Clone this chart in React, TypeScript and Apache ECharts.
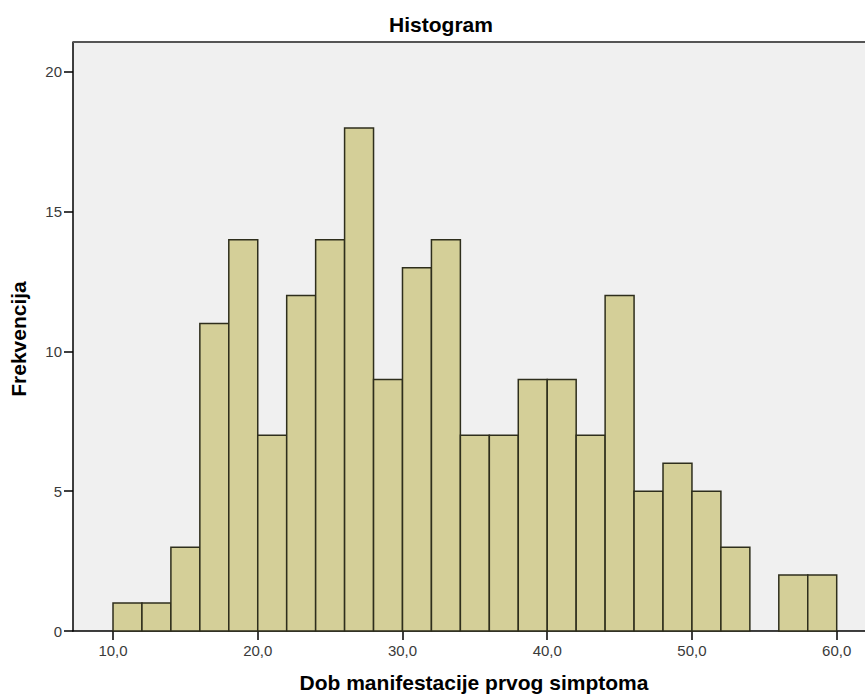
import React, { useEffect, useRef } from "react";
import * as echarts from "echarts";

const binStarts = [10, 12, 14, 16, 18, 20, 22, 24, 26, 28, 30, 32, 34, 36, 38, 40, 42, 44, 46, 48, 50, 52, 54, 56, 58];
const binWidth = 2;
const counts = [1, 1, 3, 11, 14, 7, 12, 14, 18, 9, 13, 14, 7, 7, 9, 9, 7, 12, 5, 6, 5, 3, 0, 2, 2];
const xTicks = [10, 20, 30, 40, 50, 60];
const yTicks = [0, 5, 10, 15, 20];

const FONT = "Liberation Sans, Arial, sans-serif";

export default function App() {
  const ref = useRef<HTMLDivElement>(null);
  useEffect(() => {
    const chart = echarts.init(ref.current!, null, { renderer: "svg" });
    const data = binStarts.map((s, i) => [s, s + binWidth, counts[i]]);
    chart.setOption({
      animation: false,
      backgroundColor: "#ffffff",
      grid: { left: 73, right: 0, top: 42, bottom: 67, backgroundColor: "#F0F0F0", show: true, borderWidth: 0 },
      xAxis: {
        type: "value",
        min: 7.236,
        max: 61.955,
        axisLine: { show: true, lineStyle: { color: "#000", width: 1.5 } },
        axisTick: { show: true, length: 9, lineStyle: { color: "#000", width: 1.5 }, customValues: xTicks },
        axisLabel: {
          customValues: xTicks,
          fontFamily: FONT,
          fontSize: 15,
          color: "#3a3a3a",
          margin: 12,
          formatter: (v: number) => v.toFixed(1).replace(".", ","),
        },
        splitLine: { show: false },
      },
      yAxis: {
        type: "value",
        min: 0,
        max: 21.073,
        axisLine: { show: true, lineStyle: { color: "#000", width: 1.5 } },
        axisTick: { show: true, length: 9, lineStyle: { color: "#000", width: 1.5 }, customValues: yTicks },
        axisLabel: {
          customValues: yTicks,
          fontFamily: FONT,
          fontSize: 15,
          color: "#3a3a3a",
          margin: 11,
        },
        splitLine: { show: false },
      },
      graphic: [
        {
          type: "line",
          shape: { x1: 73, y1: 42, x2: 865, y2: 42 },
          style: { stroke: "#555", lineWidth: 2 },
          z: 100,
        },
        {
          type: "text",
          x: 441,
          y: 24,
          style: {
            text: "Histogram",
            textAlign: "center",
            textVerticalAlign: "middle",
            font: `bold 21px ${FONT}`,
            fill: "#000",
          },
        },
        {
          type: "text",
          x: 474,
          y: 682,
          style: {
            text: "Dob manifestacije prvog simptoma",
            textAlign: "center",
            textVerticalAlign: "middle",
            font: `bold 21px ${FONT}`,
            fill: "#000",
          },
        },
        {
          type: "text",
          x: 18,
          y: 339,
          rotation: Math.PI / 2,
          style: {
            text: "Frekvencija",
            textAlign: "center",
            textVerticalAlign: "middle",
            font: `bold 21px ${FONT}`,
            fill: "#000",
          },
        },
      ],
      series: [
        {
          type: "custom",
          data,
          renderItem: (params: any, api: any) => {
            const s = api.value(0);
            const e = api.value(1);
            const c = api.value(2);
            if (!c) return null;
            const p0 = api.coord([s, c]);
            const p1 = api.coord([e, 0]);
            return {
              type: "rect",
              shape: { x: p0[0], y: p0[1], width: p1[0] - p0[0], height: p1[1] - p0[1] },
              style: { fill: "#D4CF98", stroke: "#2e2e1c", lineWidth: 1.5 },
            };
          },
          encode: { x: [0, 1], y: 2 },
        },
      ],
    });
    return () => chart.dispose();
  }, []);
  return (
    <div
      ref={ref}
      style={{ position: "fixed", left: 0, top: 0, width: 865, height: 698 }}
    />
  );
}
